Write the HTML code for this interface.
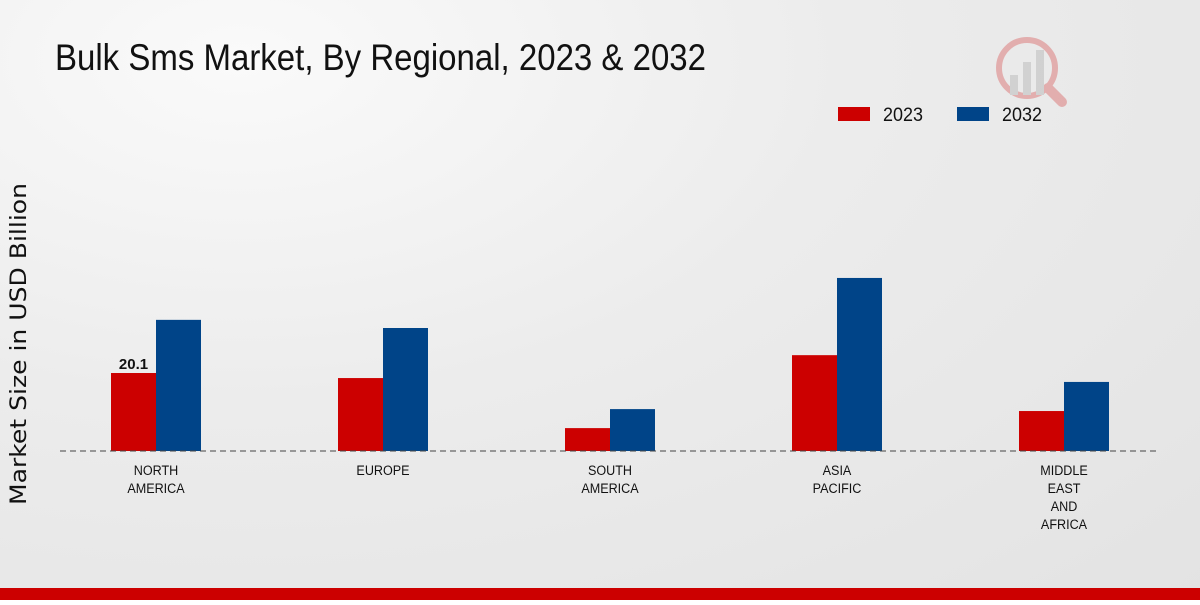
<!DOCTYPE html>
<html><head><meta charset="utf-8">
<style>
body{margin:0;width:1200px;height:600px;overflow:hidden;font-family:"Liberation Sans",sans-serif;}
#wrap{position:relative;width:1200px;height:600px;background:radial-gradient(ellipse at 20% 10%,#fafafa 0%,#ececec 45%,#e3e3e3 100%);}
</style></head>
<body>
<div id="wrap">
<svg id="chart" width="1200" height="600">
<text x="55" y="70" font-family="'Liberation Sans',sans-serif" font-size="37" textLength="651" lengthAdjust="spacingAndGlyphs" fill="#111">Bulk Sms Market, By Regional, 2023 &amp; 2032</text>
<g opacity="0.25">
<circle cx="1027" cy="68" r="28" fill="none" stroke="#c00" stroke-width="6"/>
<line x1="1048" y1="88" x2="1062" y2="102" stroke="#c00" stroke-width="10" stroke-linecap="round"/>
<rect x="1010" y="75" width="8" height="20" fill="#888"/><rect x="1023" y="62" width="8" height="33" fill="#888"/><rect x="1036" y="50" width="8" height="45" fill="#888"/>
</g>
<g>
<rect x="838" y="107" width="32" height="14" fill="#cc0000"/>
<text x="883" y="121" font-size="19" textLength="40" lengthAdjust="spacingAndGlyphs" fill="#111">2023</text>
<rect x="957" y="107" width="32" height="14" fill="#004488"/>
<text x="1002" y="121" font-size="19" textLength="40" lengthAdjust="spacingAndGlyphs" fill="#111">2032</text>
</g>
<text transform="translate(26,344) rotate(-90)" x="-161" y="0" font-family="'DejaVu Sans',sans-serif" font-size="22" textLength="322" lengthAdjust="spacingAndGlyphs" fill="#111">Market Size in USD Billion</text>
<g id="bars"></g>
<line x1="60" y1="451" x2="1160" y2="451" stroke="#444" stroke-dasharray="6,4"/>
<g id="labels"></g>
</svg>
<div style="position:absolute;left:0;top:588px;width:1200px;height:12px;background:#cc0000"></div>
</div>
<script>
const categories=[["NORTH","AMERICA"],["EUROPE"],["SOUTH","AMERICA"],["ASIA","PACIFIC"],["MIDDLE","EAST","AND","AFRICA"]];
const values2023=[20.1,18.8,5.9,24.7,10.3];
const values2032=[33.8,31.7,10.8,44.6,17.8];
const pxPerUnit=3.88, base=451, x0=156, step=227, bw=45;
const y=v=>base-v*pxPerUnit;
const ns="http://www.w3.org/2000/svg";
const bars=document.getElementById('bars'), labels=document.getElementById('labels');
categories.forEach((c,i)=>{
  const cx=x0+i*step;
  [[values2023,'#cc0000',cx-bw,'2023'],[values2032,'#004488',cx,'2032']].forEach(([arr,col,x,yr])=>{
    const r=document.createElementNS(ns,'rect');
    r.setAttribute('x',x);r.setAttribute('y',y(arr[i]));r.setAttribute('width',bw);r.setAttribute('height',arr[i]*pxPerUnit);r.setAttribute('fill',col);
    
    
    bars.appendChild(r);
  });
  c.forEach((ln,j)=>{
    const t=document.createElementNS(ns,'text');
    t.setAttribute('x',cx);t.setAttribute('y',475+j*18);t.setAttribute('text-anchor','middle');
    t.setAttribute('font-size','14');t.setAttribute('fill','#111');
    t.setAttribute('transform','translate('+cx+',0) scale(0.9,1) translate('+(-cx)+',0)');
    t.textContent=ln;
    
    
    labels.appendChild(t);
  });
});
const vl=document.createElementNS(ns,'text');
vl.setAttribute('x',x0-bw/2);vl.setAttribute('y',y(values2023[0])-4);vl.setAttribute('text-anchor','middle');
vl.setAttribute('font-size','15');vl.setAttribute('font-weight','bold');vl.setAttribute('fill','#111');
vl.textContent=values2023[0];


labels.appendChild(vl);
</script>
</body></html>
